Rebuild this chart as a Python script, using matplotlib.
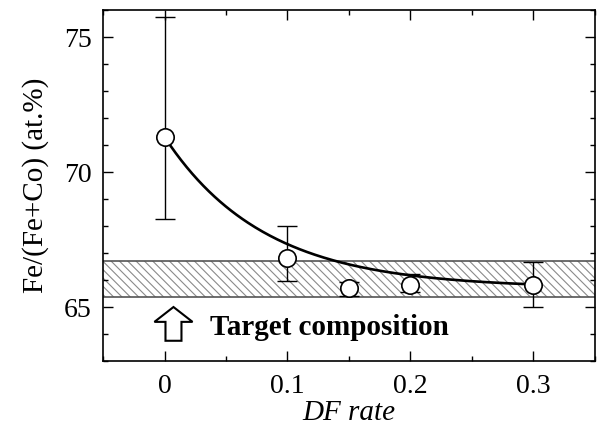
import numpy as np
import matplotlib
matplotlib.use("Agg")
import matplotlib.pyplot as plt
from matplotlib.ticker import MultipleLocator

# ========== DATA ==========
df_rate = [0.0, 0.1, 0.15, 0.2, 0.3]
fe_ratio = [71.3, 66.8, 65.72, 65.81, 65.8]
err_upper = [4.45, 1.2, 0.2, 0.4, 0.85]
err_lower = [3.05, 0.85, 0.31, 0.27, 0.8]

# target composition band (at.%)
target_low, target_high = 65.38, 66.72

# exponential fit drawn through the points: y = a + b*exp(-x/tau)
fit_a, fit_b, fit_tau = 65.7, 5.6, 0.081

x_ticks = [0, 0.1, 0.2, 0.3]
x_tick_labels = ["0", "0.1", "0.2", "0.3"]
y_ticks = [65, 70, 75]

# ========== STYLE ==========
plt.rcParams['font.family'] = ['Liberation Serif', 'DejaVu Serif']
plt.rcParams['hatch.linewidth'] = 0.8
plt.rcParams['hatch.color'] = '#8a8a8a'

fig = plt.figure(figsize=(5.99, 4.28), dpi=100)
ax = fig.add_axes([0.172, 0.1565, 0.821, 0.820])

# target band
ax.axhspan(target_low, target_high, facecolor='white', edgecolor='#8a8a8a',
           hatch='\\\\\\\\', lw=0, zorder=1)
ax.axhline(target_low, color='#555555', lw=1.2, zorder=2)
ax.axhline(target_high, color='#555555', lw=1.2, zorder=2)

# fitted curve
xf = np.linspace(0, max(df_rate), 200)
ax.plot(xf, fit_a + fit_b * np.exp(-xf / fit_tau), color='black', lw=1.9, zorder=3)

# data with error bars
ax.errorbar(df_rate, fe_ratio, yerr=[err_lower, err_upper], fmt='none',
            ecolor='black', elinewidth=1.0, capsize=7, capthick=1.0, zorder=4)
ax.plot(df_rate, fe_ratio, 'o', ms=12.5, mfc='white', mec='black', mew=1.2, zorder=5)

# target composition label with hollow arrow
ax.arrow(0.0073, 63.75, 0, 1.25, width=0.013, head_width=0.031, head_length=0.55,
         length_includes_head=True, fc='white', ec='black', lw=1.5, zorder=6)
ax.text(0.037, 63.97, "Target composition", fontsize=21, fontweight='bold',
        va='baseline', ha='left', zorder=6)

# axes formatting
ax.set_xlim(-0.05, 0.35)
ax.set_ylim(63, 76)
ax.set_xticks(x_ticks)
ax.set_xticklabels(x_tick_labels)
ax.set_yticks(y_ticks)
ax.xaxis.set_minor_locator(MultipleLocator(0.05))
ax.yaxis.set_minor_locator(MultipleLocator(1))
ax.tick_params(which='both', direction='in', top=True, right=True,
               labelsize=20, width=1.0)
ax.tick_params(axis='x', which='major', length=7, pad=9)
ax.tick_params(axis='y', which='major', length=7, pad=8)
ax.tick_params(which='minor', length=3.5)
for s in ax.spines.values():
    s.set_linewidth(1.2)

ax.set_xlabel("DF rate", fontsize=21, style='italic', labelpad=1)
ax.set_ylabel("Fe/(Fe+Co) (at.%)", fontsize=21, labelpad=11)

fig.savefig("out.png", dpi=100)
